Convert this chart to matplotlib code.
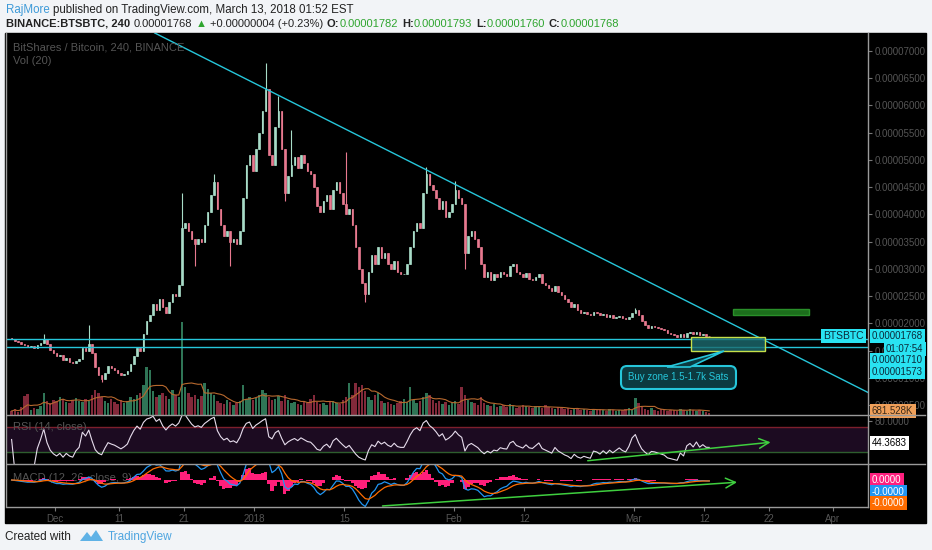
import numpy as np
import pandas as pd
import matplotlib
matplotlib.use('Agg')
import matplotlib.pyplot as plt
import matplotlib.dates as mdates
from matplotlib.patches import Rectangle, FancyBboxPatch, Polygon
from matplotlib.lines import Line2D
from matplotlib.transforms import IdentityTransform

plt.rcParams['font.family'] = ['Liberation Sans', 'DejaVu Sans']

W, H = 932, 550

# BTS/BTC, 12h closes in satoshi, Nov 24 2017 -> Mar 12 2018, one row per day
close = [
    1720, 1680, 1660, 1620, 1600, 1570, 1580, 1550, 1600, 1640, 1720, 1620,
    1520, 1450, 1400, 1420, 1330, 1360, 1300, 1270, 1320, 1350, 1550, 1500,
    1620, 1450, 1200, 1050, 980, 1100, 1220, 1180, 1150, 1100, 1050, 1080,
    1120, 1250, 1400, 1550, 1500, 1800, 2050, 2150, 2350, 2250, 2450, 2300,
    2200, 2400, 2550, 2500, 2700, 3750, 3850, 3700, 3550, 3450, 3550, 3500,
    3800, 4050, 4350, 4600, 4100, 3800, 3600, 3700, 3500, 3550, 3450, 3700,
    4300, 4900, 5100, 4800, 5200, 5500, 5900, 6300, 5100, 4900, 5600, 5900,
    5200, 4400, 4700, 4900, 5050, 4850, 5100, 4950, 4800, 4750, 4500, 4150,
    4050, 4250, 4350, 4100, 4450, 4600, 4400, 4200, 4000, 4100, 3800, 3400,
    3000, 2750, 2550, 2950, 3250, 3100, 3400, 3200, 3300, 3100, 3000, 3150,
    2950, 2900, 2900, 3100, 3400, 3700, 3850, 3750, 4400, 4750, 4550, 4450,
    4300, 4100, 4250, 3950, 4050, 4200, 4450, 4300, 4200, 3300, 3600, 3700,
    3550, 3400, 3100, 2850, 2950, 2800, 2900, 2850, 2950, 2900, 2880, 3050,
    3100, 2950, 2900, 2850, 2920, 2820, 2800, 2850, 2900, 2750, 2700, 2650,
    2600, 2680, 2580, 2520, 2450, 2400, 2300, 2350, 2250, 2200, 2220, 2180,
    2150, 2220, 2200, 2150, 2180, 2120, 2150, 2100, 2120, 2140, 2100, 2080,
    2120, 2200, 2240, 2150, 2050, 1980, 1920, 1950, 1940, 1920, 1900, 1880,
    1820, 1800, 1780, 1760, 1800, 1750, 1820, 1840, 1800, 1840, 1780, 1800,
    1770, 1768,
]
first_open = 1740

# long wicks visible on the chart (bar index, price)
wick_high_idx = [10, 24, 53, 63, 79, 83, 87, 104, 129, 138, 194]
wick_high_val = [1800, 1970, 4400, 4750, 6780, 6180, 5550, 5150, 4880, 4620, 2280]
wick_low_idx = [28, 57, 68, 85, 110, 141]
wick_low_val = [930, 3050, 3050, 4250, 2400, 3000]

# volume per 12h bar (millions of BTS)
volume = [
    4, 6, 3, 8, 19, 21, 5, 7, 6, 9, 22, 14,
    12, 15, 14, 18, 16, 13, 12, 15, 17, 14, 13, 16, 14, 20,
    25, 22, 18, 14, 12, 16, 13, 11, 15, 12, 14, 18,
    16, 20, 22, 30, 48, 45,
    24, 18, 20, 22, 19, 16, 25, 20, 18, 93,
    28, 22, 18, 20, 16, 19, 32, 26, 22, 20,
    14, 12, 11, 15, 13, 10, 12, 14, 30, 16, 18, 15,
    17, 20, 25, 22, 18, 15, 16, 19, 14, 20,
    15, 12, 13, 11, 10, 14, 12, 16, 20, 13, 11, 12, 10, 13,
    14, 12, 11, 15, 18, 32, 20, 32, 28, 30, 24, 18,
    15, 20, 22, 14, 12, 13, 11, 10, 12, 14, 16, 13, 28, 15, 12, 14,
    18, 22, 20, 15, 12, 14, 11, 13, 10, 12, 14, 11,
    28, 20, 15, 13, 12, 10, 18, 12, 10, 9, 11, 8,
    9, 10, 8, 11, 9, 7, 8, 10, 9, 8, 7, 9, 8, 7, 10, 8, 7, 6, 8, 7,
    6, 7, 5, 6, 7, 5, 6, 5, 4, 6, 5, 6, 5, 4, 6, 5, 4, 5, 5, 6, 7, 5,
    17, 12, 8, 6, 5, 7, 5, 4, 6, 5, 4, 5, 5, 4, 6, 5, 4, 6, 5, 4, 5, 4, 3, 2,
]

price_ticks = list(range(500, 7001, 500))
date_ticks = ['2017-12-01', '2017-12-11', '2017-12-21', '2018-01-01', '2018-01-15', '2018-02-01',
              '2018-02-12', '2018-03-01', '2018-03-12', '2018-03-22', '2018-04-01']
date_labels = ['Dec', '11', '21', '2018', '15', 'Feb', '12', 'Mar', '12', '22', 'Apr']

# drawings on the chart
support_levels = [1710, 1573]
trend_a = ('2018-01-21 15:00', 5183)
trend_b = ('2018-03-19 02:00', 1826)
buy_zone = ('2018-03-09 22:00', '2018-03-21 10:00', 1500, 1750)
target_zone = ('2018-03-16 10:00', '2018-03-28 07:00', 2160, 2270)
rsi_trend = (('2018-02-21 10:00', 15.6), ('2018-03-22 17:00', 46))
macd_trend = (('2018-01-20 12:00', 0.02), ('2018-03-17 12:00', 0.58))

CYAN = '#26c6da'
LABEL = '#555555'
SEP = '#9a9a9a'


def dn(s):
    return mdates.date2num(pd.Timestamp(s))


close = np.array(close, dtype=float)
n = len(close)
times = pd.date_range('2017-11-24 06:00', periods=n, freq='12h')
xs = mdates.date2num(times)
opens = np.r_[first_open, close[:-1]]
highs = np.maximum(opens, close)
lows = np.minimum(opens, close)
highs[wick_high_idx] = wick_high_val
lows[wick_low_idx] = wick_low_val
up = close >= opens

# indicators; periods shortened because these are 12h bars, not 4h bars
diff = np.diff(close, prepend=close[0])
g = pd.Series(np.clip(diff, 0, None)).ewm(alpha=1 / 8, adjust=False).mean()
l = pd.Series(np.clip(-diff, 0, None)).ewm(alpha=1 / 8, adjust=False).mean()
rsi = (100 - 100 / (1 + g / l.replace(0, np.nan))).fillna(50).values
cs = pd.Series(close)
macd = cs.ewm(span=4, adjust=False).mean() - cs.ewm(span=9, adjust=False).mean()
signal = macd.ewm(span=6, adjust=False).mean()
hist = macd - signal
vol_ma = pd.Series(volume).rolling(7, min_periods=1).mean()

fig = plt.figure(figsize=(W / 100, H / 100), dpi=100, facecolor='#f2f4f7')
fig.add_artist(Rectangle((5 / W, 1 - 523 / H), 921 / W, 490 / H, transform=fig.transFigure,
                         color='black', zorder=-1))


def ax_at(x0, y0, x1, y1):
    a = fig.add_axes([x0 / W, 1 - y1 / H, (x1 - x0) / W, (y1 - y0) / H])
    a.set_facecolor('none')
    for s in a.spines.values():
        s.set_visible(False)
    return a


x0 = mdates.date2num(pd.Timestamp('2017-11-24'))
xmin, xmax = x0 - 3 / 6.43, x0 + 858 / 6.43

ax = ax_at(7, 33, 868, 415)
axv = ax.twinx()
for s in axv.spines.values():
    s.set_visible(False)
axv.set_ylim(0, 382)
axv.axis('off')
ax.set_zorder(axv.get_zorder() + 1)

vcol = np.where(up, '#2f7556', '#82293a')
axv.bar(xs, volume, width=0.38, color=vcol)
axv.plot(xs, vol_ma, color='#b8692e', lw=0.8)

ccol = np.where(up, '#a8dcc8', '#e8798f')
ax.vlines(xs, lows, highs, colors=ccol, lw=0.8)
ax.bar(xs, np.abs(close - opens), bottom=np.minimum(opens, close), width=0.24,
       color=ccol, edgecolor=ccol, linewidth=0.5)

for lv in support_levels:
    ax.axhline(lv, color=CYAN, lw=1)
ax.axline((dn(trend_a[0]), trend_a[1]), (dn(trend_b[0]), trend_b[1]), color=CYAN, lw=1)
bx0, bx1 = dn(buy_zone[0]), dn(buy_zone[1])
ax.add_patch(Rectangle((bx0, buy_zone[2]), bx1 - bx0, buy_zone[3] - buy_zone[2],
                       fc=(0.11, 0.42, 0.44, 0.8), ec='#c6e04a', lw=1, zorder=3))
tx0, tx1 = dn(target_zone[0]), dn(target_zone[1])
ax.add_patch(Rectangle((tx0, target_zone[2]), tx1 - tx0, target_zone[3] - target_zone[2],
                       fc='#1c6e1c', ec='#2a8f2a', lw=1, zorder=3))

ax.set_xlim(xmin, xmax)
ax.set_ylim(321, 7330)
ax.yaxis.tick_right()
ax.set_yticks(price_ticks)
ax.set_yticklabels([f'{v / 1e8:.8f}' for v in price_ticks])
ax.tick_params(axis='y', colors='#777777', labelcolor=LABEL, labelsize=7, length=3, pad=2, width=0.8)
ax.tick_params(axis='x', bottom=False, labelbottom=False)
ax.text(6 / 861, 1 - 14 / 382, 'BitShares / Bitcoin, 240, BINANCE', transform=ax.transAxes,
        color=LABEL, fontsize=8, va='center')
ax.text(6 / 861, 1 - 28 / 382, 'Vol (20)', transform=ax.transAxes, color=LABEL, fontsize=8, va='center')

# RSI
ax_rsi = ax_at(7, 415, 868, 464)
ax_rsi.axhspan(30, 70, color='#1c0b21', lw=0)
ax_rsi.axhline(70, color='#7d1f2c', lw=1)
ax_rsi.axhline(30, color='#2e5e2e', lw=1)
ax_rsi.plot(xs, rsi, color='#e6dcec', lw=0.8)
ax_rsi.annotate('', xy=(dn(rsi_trend[1][0]), rsi_trend[1][1]), xytext=(dn(rsi_trend[0][0]), rsi_trend[0][1]),
                arrowprops=dict(arrowstyle='->,head_length=0.7,head_width=0.35', color='#3fcf3f', lw=1.1))
ax_rsi.set_xlim(xmin, xmax)
ax_rsi.set_ylim(10.8, 89.2)
ax_rsi.yaxis.tick_right()
ax_rsi.set_yticks([80])
ax_rsi.set_yticklabels(['80.0000'])
ax_rsi.tick_params(axis='y', colors='#777777', labelcolor=LABEL, labelsize=7, length=3, pad=2, width=0.8)
ax_rsi.tick_params(axis='x', bottom=False, labelbottom=False)
ax_rsi.text(6 / 861, 0.76, 'RSI (14, close)', transform=ax_rsi.transAxes, color=LABEL, fontsize=8, va='center')

# MACD
ax_m = ax_at(7, 464, 868, 507)
ax_m.bar(xs, hist, width=0.5, color='#ff1f7a', linewidth=0, zorder=1)
ax_m.plot(xs, macd, color='#2196f3', lw=0.9, zorder=2)
ax_m.plot(xs, signal, color='#ff6d00', lw=0.9, zorder=2)
ax_m.annotate('', xy=(dn(macd_trend[1][0]), macd_trend[1][1]), xytext=(dn(macd_trend[0][0]), macd_trend[0][1]),
              xycoords=ax_m.get_xaxis_transform(),
              arrowprops=dict(arrowstyle='->,head_length=0.7,head_width=0.35', color='#3fcf3f', lw=1.1))
lo = macd.min() * 1.02
ax_m.set_ylim(lo, -lo * 16 / 27)
ax_m.set_xlim(xmin, xmax)
ax_m.set_yticks([])
ax_m.set_xticks([dn(d) for d in date_ticks])
ax_m.set_xticklabels(date_labels)
ax_m.tick_params(axis='x', colors='#777777', labelcolor=LABEL, labelsize=7, length=3, pad=2, width=0.8)
ax_m.text(6 / 861, 0.67, 'MACD (12, 26, close, 9)', transform=ax_m.transAxes, color=LABEL, fontsize=8,
          va='center', zorder=0)

# panel separators
for (xa, xb, ya, yb) in [(868, 868, 33, 507), (7, 925, 415, 415), (7, 925, 464, 464), (7, 868, 507, 507),
                         (6, 6, 33, 507)]:
    fig.add_artist(Line2D([xa / W, xb / W], [1 - ya / H, 1 - yb / H], transform=fig.transFigure,
                          color=SEP, lw=1, zorder=5))


def tag(x, y, s, fc, tc, ha='left', size=7):
    fig.text(x / W, 1 - y / H, s, ha=ha, va='center', fontsize=size, color=tc,
             bbox=dict(boxstyle='square,pad=0.22', fc=fc, ec='none'), zorder=4)


tag(864, 336, 'BTSBTC', '#29e3f2', '#0b2a3a', ha='right', size=7.5)
tag(872, 336, '0.00001768', '#29e3f2', '#0b2a3a')
tag(886, 349, '01:07:54', '#29e3f2', '#0b2a3a')
tag(872, 360, '0.00001710', '#29e3f2', '#0b2a3a')
tag(872, 372, '0.00001573', '#29e3f2', '#0b2a3a')
tag(872, 411, '681.528K', '#f0a05a', '#3a2a1a')
tag(872, 443, '44.3683', 'white', 'black')
tag(872, 480, '0.0000', '#ff1f7e', 'white')
tag(872, 492, '-0.0000', '#2196f3', 'white')
tag(872, 503, '-0.0000', '#ff6d00', 'white')

# callout
fig.add_artist(FancyBboxPatch((621, H - 389), 115, 23, boxstyle='round,pad=0,rounding_size=6',
                              transform=IdentityTransform(), fc='#0c3a40', ec=CYAN, lw=1.5, zorder=4))
fig.add_artist(Polygon([(667, H - 367), (724, H - 351), (690, H - 367)], closed=True,
                       transform=IdentityTransform(), fc='#0c3a40', ec=CYAN, lw=1.2, zorder=4))
fig.text(678.5 / W, 1 - 377.5 / H, 'Buy zone 1.5-1.7k Sats', ha='center', va='center', fontsize=7,
         color=CYAN, zorder=5)

# header and footer
renderer = fig.canvas.get_renderer()


def seq_text(x, y, parts, size):
    for s, col, wt, gap in parts:
        t = fig.text(x / W, 1 - y / H, s, color=col, weight=wt, fontsize=size, ha='left', va='center')
        x += t.get_window_extent(renderer).width + gap


DARK = '#222222'
GREEN = '#2fa52f'
seq_text(6, 10, [('RajMore', '#3d9ad8', 'normal', 3),
                 ('published on TradingView.com, March 13, 2018 01:52 EST', DARK, 'normal', 0)], 8.3)
seq_text(6, 24, [('BINANCE:BTSBTC, 240', DARK, 'bold', 4), ('0.00001768', DARK, 'normal', 3),
                 ('\u25b2', GREEN, 'normal', 3), ('+0.00000004 (+0.23%)', DARK, 'normal', 4),
                 ('O:', DARK, 'bold', 0), ('0.00001782', GREEN, 'normal', 4),
                 ('H:', DARK, 'bold', 0), ('0.00001793', GREEN, 'normal', 4),
                 ('L:', DARK, 'bold', 0), ('0.00001760', GREEN, 'normal', 4),
                 ('C:', DARK, 'bold', 0), ('0.00001768', GREEN, 'normal', 0)], 8)

seq_text(5, 537, [('Created with', DARK, 'normal', 0)], 8.5)
fig.add_artist(Polygon([(80, H - 541), (87, H - 532), (91, H - 537), (96, H - 530), (103, H - 541)],
                       closed=True, transform=IdentityTransform(), fc='#5fb2e6', ec='none'))
seq_text(108, 537, [('TradingView', '#4ea5e0', 'normal', 0)], 8.5)

fig.savefig('out.png', dpi=100, facecolor=fig.get_facecolor())
